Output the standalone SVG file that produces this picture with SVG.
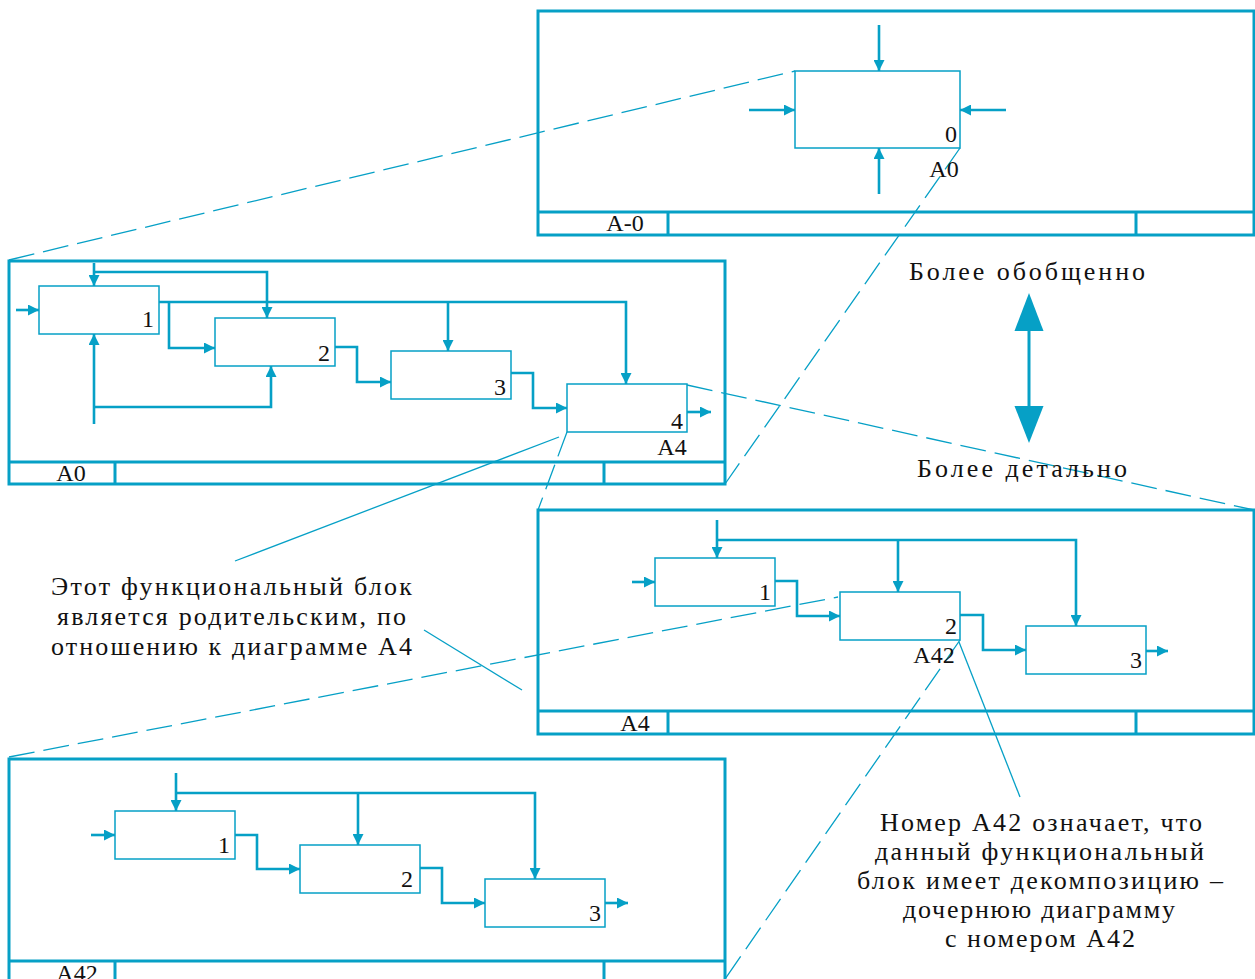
<svg xmlns="http://www.w3.org/2000/svg" width="1255" height="979" viewBox="0 0 1255 979">
<style>
.frame{fill:none;stroke:#06a0c6;stroke-width:3}
.box{fill:#fff;stroke:#06a0c6;stroke-width:1.5}
.arr{fill:none;stroke:#06a0c6;stroke-width:2.6;marker-end:url(#ah)}
.dash{fill:none;stroke:#06a0c6;stroke-width:1.3;stroke-dasharray:26 9}
.thin{fill:none;stroke:#06a0c6;stroke-width:1.3}
text{font-family:"Liberation Serif","DejaVu Serif",serif;font-size:24px;fill:#111}
.note{font-size:26px}
.num{text-anchor:end}
.mid{text-anchor:middle}
</style>
<defs>
<marker id="ah" viewBox="0 0 10 10" refX="10" refY="5" markerWidth="11" markerHeight="11" markerUnits="userSpaceOnUse" orient="auto">
<path d="M0,0 L10,5 L0,10 z" fill="#06a0c6"/>
</marker>
</defs>
<rect width="1255" height="979" fill="#fff"/>

<!-- frames -->
<g id="frame-A-0">
<rect class="frame" x="538" y="11" width="716" height="224"/>
<path class="frame" d="M538,212 H1254 M668,212 V235 M1136,212 V235"/>
<text class="mid" x="625" y="231">A-0</text>
</g>
<g id="frame-A0">
<rect class="frame" x="9" y="261" width="716" height="223"/>
<path class="frame" d="M9,462 H725 M115,462 V484 M604,462 V484"/>
<text class="mid" x="71" y="481">A0</text>
</g>
<g id="frame-A4">
<rect class="frame" x="538" y="510" width="716" height="224"/>
<path class="frame" d="M538,711 H1254 M668,711 V734 M1136,711 V734"/>
<text class="mid" x="635" y="731">A4</text>
</g>
<g id="frame-A42">
<rect class="frame" x="9" y="759" width="716" height="226"/>
<path class="frame" d="M9,961 H725 M115,961 V985 M604,961 V985"/>
<text class="mid" x="77" y="981">A42</text>
</g>

<!-- connectors -->
<g id="connectors">
<!-- A-0 -->
<path class="arr" d="M879,25 V71"/>
<path class="arr" d="M749,110 H795"/>
<path class="arr" d="M1006,110 H960"/>
<path class="arr" d="M879,194 V148"/>
<!-- A0 -->
<path class="arr" d="M16,310 H39"/>
<path class="arr" d="M94,263 V286"/>
<path class="arr" d="M94,272 H267 V318"/>
<path class="arr" d="M159,302 H626 V384"/>
<path class="arr" d="M448,302 V351"/>
<path class="arr" d="M169,302 V348 H215"/>
<path class="arr" d="M335,347 H357 V382 H391"/>
<path class="arr" d="M511,373 H533 V408 H567"/>
<path class="arr" d="M687,412 H711"/>
<path class="arr" d="M94,424 V334"/>
<path class="arr" d="M94,407 H271 V366"/>
<!-- A4 -->
<path class="arr" d="M717,520 V558"/>
<path class="arr" d="M717,540 H1076 V626"/>
<path class="arr" d="M898,540 V592"/>
<path class="arr" d="M632,582 H655"/>
<path class="arr" d="M775,581 H797 V616 H840"/>
<path class="arr" d="M960,615 H983 V650 H1026"/>
<path class="arr" d="M1146,651 H1168"/>
<!-- A42 -->
<path class="arr" d="M176,773 V811"/>
<path class="arr" d="M176,793 H535 V879"/>
<path class="arr" d="M358,793 V845"/>
<path class="arr" d="M91,835 H115"/>
<path class="arr" d="M235,835 H257 V869 H300"/>
<path class="arr" d="M420,868 H442 V903 H485"/>
<path class="arr" d="M605,903 H628"/>
<!-- decomposition lines -->
<path class="dash" d="M9,260 L795,71"/>
<path class="dash" d="M960,148 L725,484"/>
<path class="dash" d="M687,385 L1254,510"/>
<path class="dash" d="M567,432 L538,510"/>
<path class="dash" d="M9,757 L838,597"/>
<path class="dash" d="M960,640 L725,979"/>
<!-- callouts -->
<path class="thin" d="M235,561 L559,437"/>
<path class="thin" d="M424,630 L522,690"/>
<path class="thin" d="M959,642 L1020,797"/>
<!-- level arrow -->
<path d="M1029,328 V409" stroke="#06a0c6" stroke-width="3" fill="none"/>
<path d="M1029,293 L1043.5,331 L1014.5,331 z" fill="#06a0c6"/>
<path d="M1029,443 L1043.5,406 L1014.5,406 z" fill="#06a0c6"/>
</g>

<!-- nodes -->
<g id="node-A0-box">
<rect class="box" x="795" y="71" width="165" height="77"/>
<text class="num" x="957" y="142">0</text>
<text class="mid" x="944" y="177">A0</text>
</g>
<g id="node-A0-1"><rect class="box" x="39" y="286" width="120" height="48"/><text class="num" x="154" y="327">1</text></g>
<g id="node-A0-2"><rect class="box" x="215" y="318" width="120" height="48"/><text class="num" x="330" y="361">2</text></g>
<g id="node-A0-3"><rect class="box" x="391" y="351" width="120" height="48"/><text class="num" x="506" y="395">3</text></g>
<g id="node-A0-4"><rect class="box" x="567" y="384" width="120" height="48"/><text class="num" x="683" y="429">4</text><text class="mid" x="672" y="455">A4</text></g>

<g id="node-A4-1"><rect class="box" x="655" y="558" width="120" height="48"/><text class="num" x="771" y="600">1</text></g>
<g id="node-A4-2"><rect class="box" x="840" y="592" width="120" height="48"/><text class="num" x="957" y="634">2</text><text class="mid" x="934" y="663">A42</text></g>
<g id="node-A4-3"><rect class="box" x="1026" y="626" width="120" height="48"/><text class="num" x="1142" y="668">3</text></g>

<g id="node-A42-1"><rect class="box" x="115" y="811" width="120" height="48"/><text class="num" x="230" y="853">1</text></g>
<g id="node-A42-2"><rect class="box" x="300" y="845" width="120" height="48"/><text class="num" x="413" y="887">2</text></g>
<g id="node-A42-3"><rect class="box" x="485" y="879" width="120" height="48"/><text class="num" x="601" y="921">3</text></g>

<!-- notes -->
<g id="note-general">
<text class="note" x="909" y="280" textLength="236" lengthAdjust="spacing">Более  обобщенно</text>
</g>
<g id="note-detailed">
<text class="note" x="917" y="477" textLength="210" lengthAdjust="spacing">Более  детально</text>
</g>
<g id="note-parent">
<text class="note" x="51" y="595" textLength="361" lengthAdjust="spacing">Этот функциональный блок</text>
<text class="note" x="57" y="625" textLength="349" lengthAdjust="spacing">является родительским, по</text>
<text class="note" x="51" y="655" textLength="361" lengthAdjust="spacing">отношению к диаграмме А4</text>
</g>
<g id="note-number">
<text class="note" x="880" y="831" textLength="322" lengthAdjust="spacing">Номер А42 означает, что</text>
<text class="note" x="875" y="860" textLength="329" lengthAdjust="spacing">данный функциональный</text>
<text class="note" x="857" y="889" textLength="366" lengthAdjust="spacing">блок имеет декомпозицию –</text>
<text class="note" x="903" y="918" textLength="272" lengthAdjust="spacing">дочернюю диаграмму</text>
<text class="note" x="945" y="947" textLength="190" lengthAdjust="spacing">с номером А42</text>
</g>
</svg>
